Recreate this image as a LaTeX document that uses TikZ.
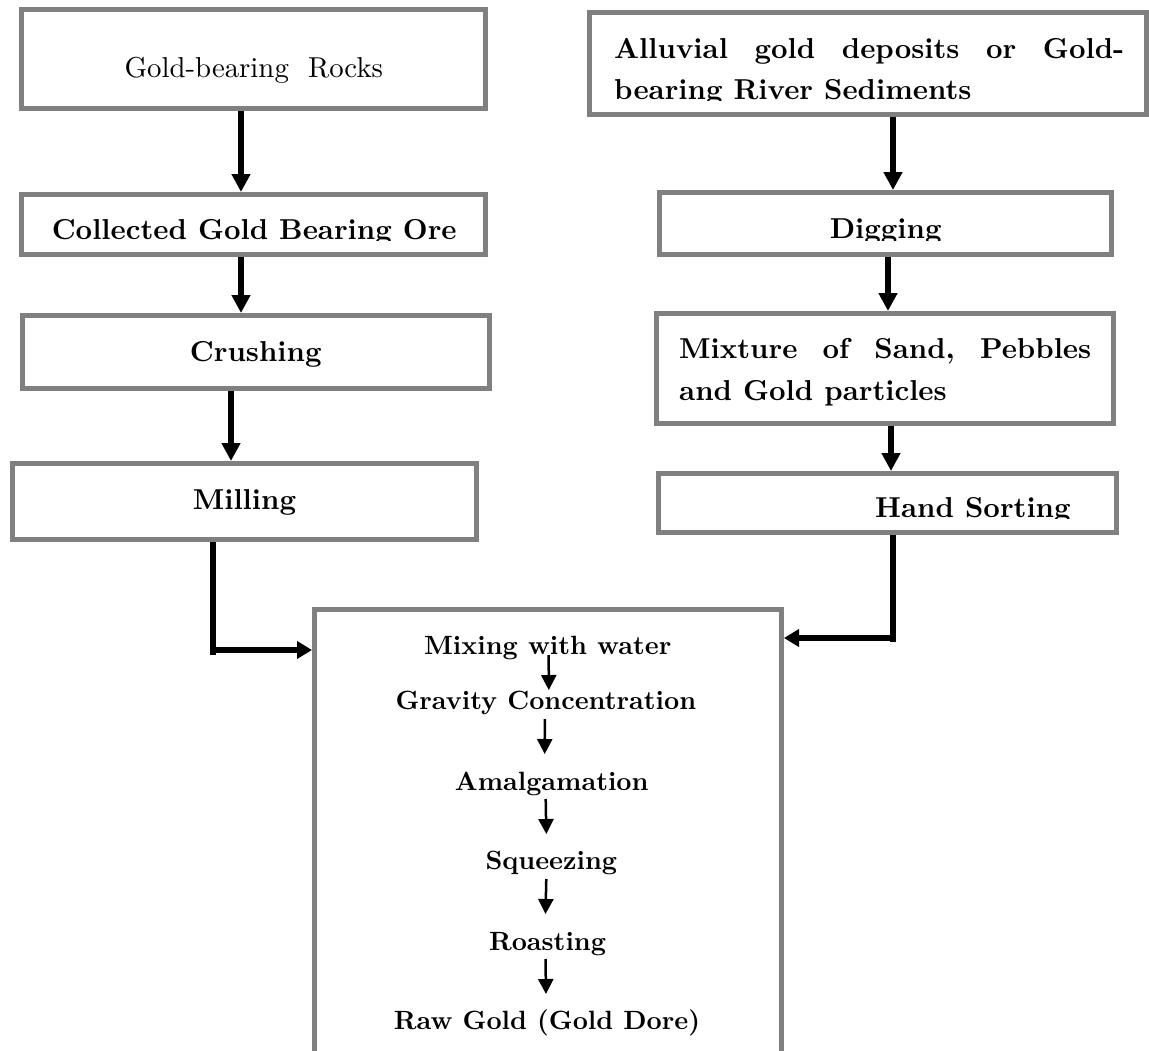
\documentclass[tikz,border=0pt]{standalone}
\usepackage{fontspec}
\setmainfont{lmroman10-regular}[Extension=.otf, BoldFont=lmroman10-bold]
\usetikzlibrary{arrows.meta}
\definecolor{framegray}{RGB}{128,128,128}
\begin{document}
\begin{tikzpicture}[x=1pt,y=-1pt,
  stepbox/.style={rectangle, draw=framegray, line width=5pt, fill=white, inner sep=0pt},
  lbl/.style={inner sep=0pt, anchor=base, font=\fontsize{28.8}{34}\selectfont\bfseries},
  lblplain/.style={inner sep=0pt, anchor=base, font=\fontsize{28.8}{34}\selectfont},
  inlbl/.style={inner sep=0pt, anchor=base, font=\fontsize{26.4}{31}\selectfont\bfseries},
  flow/.style={line width=5.5pt, -{Triangle[length=18pt,width=18pt]}},
  feed/.style={line width=6pt},
  feedtip/.style={line width=6pt, -{Triangle[length=15pt,width=17pt]}},
  inflow/.style={line width=2.5pt, -{Triangle[length=15pt,width=15pt]}}]

\useasboundingbox (0,0) rectangle (1149,1050);

% ---------- left column: hard-rock ore ----------
\node[stepbox, minimum width=464pt, minimum height=99pt] (rocks) at (253.5,59) {};
\node[lblplain] (rockstxt) at (253.8,77.7) {Gold-bearing\ \ Rocks};

\node[stepbox, minimum width=464pt, minimum height=60pt] (ore) at (253.5,224.5) {};
\begin{scope}
  \clip (24,195) rectangle (484,240.5);
  \node[lbl] (oretxt) at (254.2,239.5) {Collected Gold Bearing Ore};
\end{scope}

\node[stepbox, minimum width=467pt, minimum height=73pt] (crush) at (256,352) {};
\node[lbl] (crushtxt) at (255.8,361) {Crushing};

\node[stepbox, minimum width=464pt, minimum height=76pt] (mill) at (244.5,501.5) {};
\node[lbl] (milltxt) at (244.5,509.5) {Milling};

% ---------- right column: alluvial deposits ----------
\node[stepbox, minimum width=557pt, minimum height=102pt] (allu) at (868,63.5) {};
\node[lbl, anchor=base west] (allutxta) at (614,58.5)
  {\hbox to 510pt{Alluvial\hfill gold\hfill deposits\hfill or\hfill Gold-}};
\begin{scope}
  \clip (592,15) rectangle (1144,100.7);
  \node[lbl, anchor=base west] (allutxtb) at (614,99.5) {bearing River Sediments};
\end{scope}

\node[stepbox, minimum width=452pt, minimum height=62pt] (dig) at (885.5,223.5) {};
\begin{scope}
  \clip (662,195) rectangle (1109,240);
  \node[lbl] (digtxt) at (885.7,238) {Digging};
\end{scope}

\node[stepbox, minimum width=457pt, minimum height=110pt] (mix) at (885,368.5) {};
\node[lbl, anchor=base west] (mixtxta) at (679,358.7)
  {\hbox to 412pt{Mixture\hfill of\hfill Sand,\hfill Pebbles}};
\node[lbl, anchor=base west] (mixtxtb) at (679,400) {and Gold particles};

\node[stepbox, minimum width=458pt, minimum height=59pt] (hand) at (887.5,503) {};
\begin{scope}
  \clip (661,476) rectangle (1114,518.5);
  \node[lbl, anchor=base west] (handtxt) at (875,517.7) {Hand Sorting};
\end{scope}

% ---------- processing box ----------
\node[stepbox, minimum width=467pt, minimum height=460.5pt] (big) at (548,839.75) {};
\node[inlbl] (s1) at (547.7,654.5) {Mixing with water};
\node[inlbl] (s2) at (545.8,709.5) {Gravity Concentration};
\node[inlbl] (s3) at (551.7,790.5) {Amalgamation};
\node[inlbl] (s4) at (551.3,869.5) {Squeezing};
\node[inlbl] (s5) at (547.5,950.5) {Roasting};
\node[inlbl] (s6) at (547,1029.5) {Raw Gold (Gold Dore)};

\draw[inflow] ([shift={(1,0.5)}]s1.base) -- ([shift={(3,-19.5)}]s2.base);
\draw[inflow] ([shift={(-1,9.5)}]s2.base) -- ([shift={(-7,-36.5)}]s3.base);
\draw[inflow] ([shift={(-6,8.5)}]s3.base) -- ([shift={(-5,-35.5)}]s4.base);
\draw[inflow] ([shift={(-5,9.5)}]s4.base) -- ([shift={(-2,-36.5)}]s5.base);
\draw[inflow] ([shift={(-2,8.5)}]s5.base) -- ([shift={(-1,-35.5)}]s6.base);

% ---------- column arrows ----------
\draw[flow] ([xshift=-12.5pt]rocks.south) -- ([xshift=-12.5pt]ore.north);
\draw[flow] ([xshift=-12.5pt]ore.south) -- ([xshift=-15pt]crush.north);
\draw[flow] ([xshift=-25pt]crush.south) -- ([xshift=-13.5pt]mill.north);

\draw[flow] ([xshift=25pt]allu.south) -- ([xshift=7.5pt]dig.north);
\draw[flow] ([xshift=2.5pt]dig.south) -- ([xshift=3pt]mix.north);
\draw[flow] ([xshift=6pt]mix.south) -- ([xshift=3.5pt]hand.north);

% ---------- feeds into the processing box ----------
\coordinate (elbowL) at (213,650);
\coordinate (elbowR) at (893,638);
\draw[feed] (mill.south -| elbowL) -- ([shift={(0,5)}]elbowL);
\draw[feedtip] (elbowL) -- (big.west |- elbowL);
\draw[feed] (hand.south -| elbowR) -- ([shift={(0,4)}]elbowR);
\draw[feedtip] (elbowR) -- (big.east |- elbowR);

\end{tikzpicture}
\end{document}
